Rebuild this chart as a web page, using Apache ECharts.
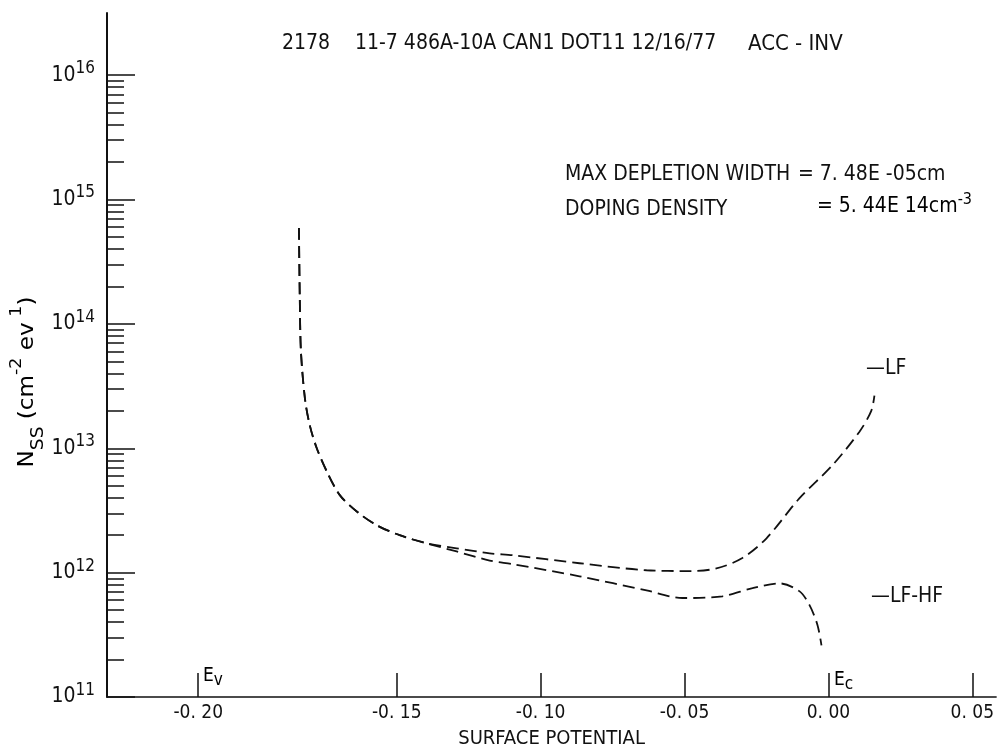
<!DOCTYPE html>
<html>
<head>
<meta charset="UTF-8">
<title>NSS - SURFACE POTENTIAL</title>
<script src="https://cdn.jsdelivr.net/npm/echarts@6/dist/echarts.min.js"></script>
<style>
	html, body { margin: 0; padding: 0; background: #fff; }
	#chart { width: 997px; height: 754px; }
</style>
</head>
<body>
<div id="chart"></div>
<script>
	var FONT = '"DejaVu Sans Condensed", "Liberation Sans Narrow", sans-serif'
	var INK = '#111'

	// LF curve: surface potential (V) / Nss (cm-2 eV-1)
	var lfX = [-0.1840, -0.1837, -0.1833, -0.1819, -0.1802, -0.1778, -0.1743, -0.1698, -0.1639, -0.1569, -0.1490, -0.1396,
		-0.1292, -0.1177, -0.1097, -0.0865, -0.0632, -0.0483, -0.0389, -0.0299, -0.0215, -0.0101, 0.0014, 0.0108, 0.0149, 0.0160]
	var lfY = [5.9e14, 1.6e14, 6.0e13, 2.5e13, 1.52e13, 1.0e13, 6.5e12, 4.2e12, 3.1e12, 2.4e12, 2.0e12, 1.72e12,
		1.57e12, 1.43e12, 1.38e12, 1.19e12, 1.045e12, 1.03e12, 1.08e12, 1.31e12, 1.89e12, 3.95e12, 7.3e12, 1.36e13, 2.0e13, 2.65e13]

	// LF-HF curve
	var hfX = [-0.1840, -0.1837, -0.1833, -0.1819, -0.1802, -0.1778, -0.1743, -0.1698, -0.1639, -0.1569, -0.1490, -0.1396,
		-0.1292, -0.1177, -0.1097, -0.0865, -0.0632, -0.0507, -0.0368, -0.0264, -0.0170, -0.0101, -0.0066, -0.0038, -0.0024]
	var hfY = [5.9e14, 1.6e14, 6.0e13, 2.5e13, 1.52e13, 1.0e13, 6.5e12, 4.2e12, 3.1e12, 2.4e12, 2.0e12, 1.72e12,
		1.48e12, 1.25e12, 1.17e12, 9.35e11, 7.2e11, 6.25e11, 6.45e11, 7.5e11, 8.2e11, 7.1e11, 5.5e11, 3.8e11, 2.6e11]

	// x ticks as printed (the -0.20 / Ev mark sits left of its linear place on the original plot)
	var xTickValues = [-0.219, -0.15, -0.10, -0.05, 0, 0.05]
	var xTickLabels = ['-0. 20', '-0. 15', '-0. 10', '-0. 05', '0. 00', '0. 05']

	// y decades; minor ticks only inside 1e11..1e16
	var yMajor = [1e11, 1e12, 1e13, 1e14, 1e15, 1e16]
	var yMinor = []
	yMajor.slice(0, -1).forEach(function(d) {
		for (var k = 2; k <= 9; k++) yMinor.push(k * d)
	})

	function pairs(xs, ys) {
		return xs.map(function(x, i) { return [x, ys[i]] })
	}

	var chart = echarts.init(document.getElementById('chart'))

	var yBase = {
		type: 'log',
		logBase: 10,
		min: 1e11,
		max: Math.pow(10, 16.5),
		position: 'left',
		splitLine: { show: false }
	}

	chart.setOption({
		backgroundColor: '#fff',
		animation: false,
		grid: { left: 107, right: 0, top: 13, bottom: 55 },
		xAxis: {
			type: 'value',
			min: -0.2507,
			max: 0.0583,
			name: 'SURFACE POTENTIAL',
			nameLocation: 'middle',
			nameGap: 32,
			nameTextStyle: { fontFamily: FONT, fontSize: 20, color: INK },
			axisLine: { onZero: false, lineStyle: { color: INK, width: 1.5 } },
			axisTick: { inside: true, length: 24, customValues: xTickValues, lineStyle: { color: INK, width: 1.5 } },
			axisLabel: {
				customValues: xTickValues,
				margin: 7,
				fontFamily: FONT, fontSize: 19, color: INK,
				formatter: function(v) {
					var best = 0
					for (var i = 1; i < xTickValues.length; i++) {
						if (Math.abs(xTickValues[i] - v) < Math.abs(xTickValues[best] - v)) best = i
					}
					return xTickLabels[best]
				}
			},
			splitLine: { show: false }
		},
		yAxis: [
			Object.assign({}, yBase, {
				axisLine: { show: true, onZero: false, lineStyle: { color: INK, width: 2 } },
				axisTick: { inside: true, length: 28, customValues: yMajor, lineStyle: { color: INK, width: 1.5 } },
				axisLabel: {
					customValues: yMajor,
					margin: 12,
					color: INK,
					formatter: function(v) {
						return '{b|10}{s|' + Math.round(Math.log10(v)) + '}'
					},
					rich: {
						b: { fontFamily: FONT, fontSize: 21, lineHeight: 30, color: INK },
						s: { fontFamily: FONT, fontSize: 17, lineHeight: 14, verticalAlign: 'top', color: INK }
					}
				}
			}),
			Object.assign({}, yBase, {
				axisLine: { show: false, onZero: false },
				axisTick: { inside: true, length: 17, customValues: yMinor, lineStyle: { color: INK, width: 1.5 } },
				axisLabel: { show: false }
			})
		],
		series: [
			{
				name: 'LF',
				type: 'line',
				data: pairs(lfX, lfY),
				smooth: 0.3,
				showSymbol: false,
				lineStyle: { color: INK, width: 1.8, type: [12, 6] }
			},
			{
				name: 'LF-HF',
				type: 'line',
				data: pairs(hfX, hfY),
				smooth: 0.3,
				showSymbol: false,
				lineStyle: { color: INK, width: 1.8, type: [12, 6] }
			}
		],
		graphic: [
			// header
			{ type: 'text', left: 282, top: 33, style: { text: '2178', font: '21px ' + FONT, fill: INK } },
			{ type: 'text', left: 355, top: 33, style: { text: '11-7 486A-10A CAN1 DOT11 12/16/77', font: '21px ' + FONT, fill: INK } },
			{ type: 'text', left: 748, top: 33, style: { text: 'ACC - INV', font: '22px ' + FONT, fill: INK } },
			// parameters
			{ type: 'text', left: 565, top: 164, style: { text: 'MAX DEPLETION WIDTH', font: '21px ' + FONT, fill: INK } },
			{ type: 'text', left: 798, top: 164, style: { text: '= 7. 48E -05cm', font: '21px ' + FONT, fill: INK } },
			{ type: 'text', left: 565, top: 199, style: { text: 'DOPING DENSITY', font: '21px ' + FONT, fill: INK } },
			{
				type: 'text', left: 817, top: 192,
				style: {
					text: '{b|= 5. 44E 14cm}{s|-3}',
					rich: {
						b: { fontFamily: FONT, fontSize: 21, lineHeight: 30, color: INK },
						s: { fontFamily: FONT, fontSize: 16, lineHeight: 14, verticalAlign: 'top', color: INK }
					}
				}
			},
			// curve labels
			{ type: 'text', left: 866, top: 358, style: { text: '\u2014LF', font: '21px ' + FONT, fill: INK } },
			{ type: 'text', left: 871, top: 586, style: { text: '\u2014LF-HF', font: '21px ' + FONT, fill: INK } },
			// band edges
			{
				type: 'text', left: 203, top: 667,
				style: {
					text: '{b|E}{s|v}',
					rich: {
						b: { fontFamily: FONT, fontSize: 19, lineHeight: 26, color: INK },
						s: { fontFamily: FONT, fontSize: 17, lineHeight: 14, verticalAlign: 'bottom', color: INK }
					}
				}
			},
			{
				type: 'text', left: 834, top: 671,
				style: {
					text: '{b|E}{s|c}',
					rich: {
						b: { fontFamily: FONT, fontSize: 19, lineHeight: 26, color: INK },
						s: { fontFamily: FONT, fontSize: 17, lineHeight: 14, verticalAlign: 'bottom', color: INK }
					}
				}
			},
			// y axis title, reading bottom to top
			{
				type: 'text',
				x: 28, y: 382,
				rotation: Math.PI / 2,
				scaleX: 1.22,
				style: {
					text: '{b|N}{d|SS}{b| (cm}{u|-2}{b| ev}{u| 1}{b|)}',
					align: 'center',
					verticalAlign: 'middle',
					rich: {
						b: { fontFamily: FONT, fontSize: 21, lineHeight: 38, color: INK },
						u: { fontFamily: FONT, fontSize: 16, lineHeight: 14, verticalAlign: 'top', color: INK },
						d: { fontFamily: FONT, fontSize: 17, lineHeight: 14, verticalAlign: 'bottom', color: INK }
					}
				}
			}
		]
	})
</script>
</body>
</html>
